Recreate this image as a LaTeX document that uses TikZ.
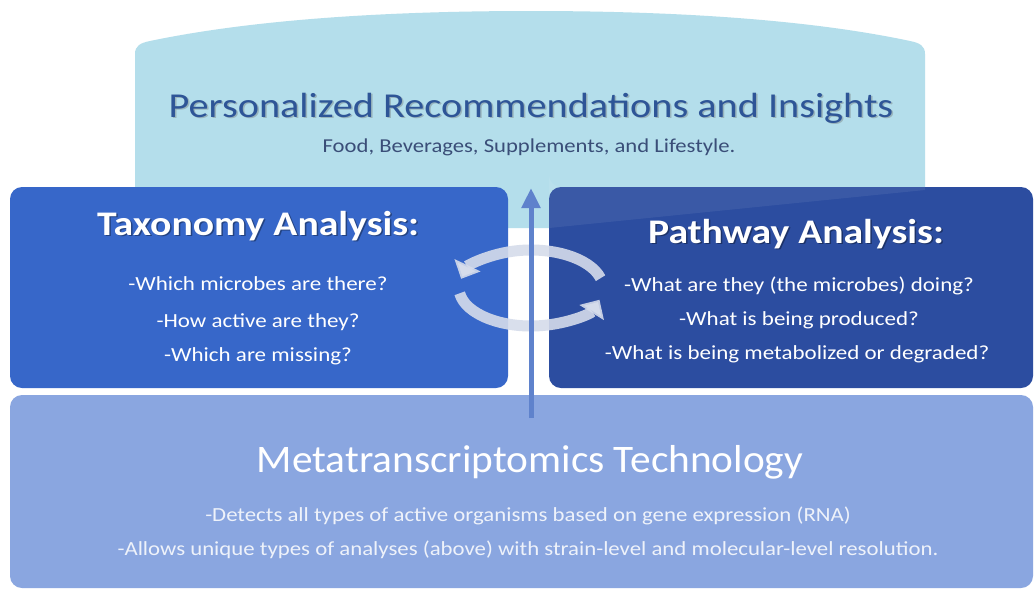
\documentclass[tikz,border=0pt]{standalone}
\usepackage{fontspec}
\usepackage{graphicx}
\setmainfont{Carlito}
\usetikzlibrary{arrows.meta}
\definecolor{topc}{HTML}{B4DEEB}
\definecolor{leftc}{HTML}{3767C9}
\definecolor{rightc}{HTML}{2C4DA0}
\definecolor{botc}{HTML}{8AA6E0}
\definecolor{titlec}{HTML}{2E5597}
\definecolor{subc}{HTML}{3A4E78}
\definecolor{arrowc}{HTML}{5F82CC}
\definecolor{cyclec}{HTML}{D5DCEB}
\definecolor{paler}{HTML}{EEF2FA}
\newcommand{\wide}[2]{\scalebox{#1}[1]{#2}}
\tikzset{
  box/.style={rounded corners=12pt, inner sep=0pt, draw=none},
  txt/.style={anchor=base, inner sep=0pt},
  shadowtxt/.style={anchor=base, inner sep=0pt, text opacity=0.35},
  cyclearrow/.style={draw=cyclec, line width=11pt, draw opacity=0.9,
    -{Triangle[width=28pt,length=15pt]}},
  uparrow/.style={draw=arrowc, line width=5pt, -{Triangle[width=18pt,length=20pt]}}
}
\begin{document}
\begin{tikzpicture}[x=1pt,y=-1pt]
\useasboundingbox (0,0) rectangle (1035,590);
\fill[white] (0,0) rectangle (1035,590);
% top shape
\fill[topc] (135,228) -- (135,54) .. controls (135,46) and (140,43) .. (150,41)
  .. controls (260,18) and (400,11) .. (531,11)
  .. controls (662,11) and (802,18) .. (910,41)
  .. controls (920,43) and (925,46) .. (925,54) -- (925,228) -- cycle;
\node[inner sep=0pt, minimum width=790, minimum height=217] (top) at (530,119.5) {};
% boxes
\node[box, fill=leftc, minimum width=498, minimum height=201] (tax) at (259,287.5) {};
\node[box, fill=rightc, minimum width=484, minimum height=201] (path) at (791,287.5) {};
\node[box, fill=botc, minimum width=1023, minimum height=193] (meta) at (521.5,491.5) {};
% glossy overlays
\fill[white, opacity=0.07] (549,199) -- (549,228) -- (925,190) -- (925,187) -- (561,187) arc[start angle=-90,end angle=-180,radius=12pt] -- cycle;
% texts top
\node[shadowtxt, text=black!60, font=\fontsize{35}{40}\selectfont] at (532.5,118.5) {\wide{1.15}{Personalized Recommendations and Insights}};
\node[txt, text=titlec, font=\fontsize{35}{40}\selectfont] (toptitle) at (531,117) {\wide{1.15}{Personalized Recommendations and Insights}};
\node[txt, text=subc, font=\fontsize{19.7}{23}\selectfont] (topsub) at (529,152) {\wide{1.15}{Food, Beverages, Supplements, and Lifestyle.}};
% taxonomy
\node[shadowtxt, text=black, font=\bfseries\fontsize{34.5}{40}\selectfont] at (259.5,236.5) {\wide{1.15}{Taxonomy Analysis:}};
\node[txt, text=white, font=\bfseries\fontsize{34.5}{40}\selectfont] (taxt) at (258,235) {\wide{1.15}{Taxonomy Analysis:}};
\node[txt, text=white, font=\fontsize{20}{24}\selectfont] (tax1) at (258,290) {\wide{1.15}{-Which microbes are there?}};
\node[txt, text=white, font=\fontsize{20}{24}\selectfont] (tax2) at (258,327) {\wide{1.15}{-How active are they?}};
\node[txt, text=white, font=\fontsize{20}{24}\selectfont] (tax3) at (258,361) {\wide{1.15}{-Which are missing?}};
% pathway
\node[shadowtxt, text=black, font=\bfseries\fontsize{34.5}{40}\selectfont] at (797.5,244.5) {\wide{1.15}{Pathway Analysis:}};
\node[txt, text=white, font=\bfseries\fontsize{34.5}{40}\selectfont] (patht) at (796,243) {\wide{1.15}{Pathway Analysis:}};
\node[txt, text=white, font=\fontsize{20}{24}\selectfont] (path1) at (799,291) {\wide{1.15}{-What are they (the microbes) doing?}};
\node[txt, text=white, font=\fontsize{20}{24}\selectfont] (path2) at (799,325) {\wide{1.15}{-What is being produced?}};
\node[txt, text=white, font=\fontsize{20}{24}\selectfont] (path3) at (797,359) {\wide{1.15}{-What is being metabolized or degraded?}};
% meta
\node[txt, text=white, font=\fontsize{39}{46}\selectfont] (metat) at (530,472) {\wide{1.06}{Metatranscriptomics Technology}};
\node[txt, text=paler, font=\fontsize{20}{24}\selectfont] (meta1) at (528,521) {\wide{1.14}{-Detects all types of active organisms based on gene expression (RNA)}};
\node[txt, text=paler, font=\fontsize{20}{24}\selectfont] (meta2) at (528,555) {\wide{1.14}{-Allows unique types of analyses (above) with strain-level and molecular-level resolution.}};
% cycle arrows
\draw[cyclearrow] (531,288) ++(-15:72 and 38) arc[start angle=-15, end angle=-166, x radius=72, y radius=38];
\draw[cyclearrow] (531,288) ++(172:72 and 38) arc[start angle=172, end angle=18, x radius=72, y radius=38];
% vertical arrow
\coordinate (arrowstart) at (531,418);
\coordinate (arrowend) at (531,188);
\draw[uparrow] (arrowstart) -- (arrowend);
\end{tikzpicture}
\end{document}
